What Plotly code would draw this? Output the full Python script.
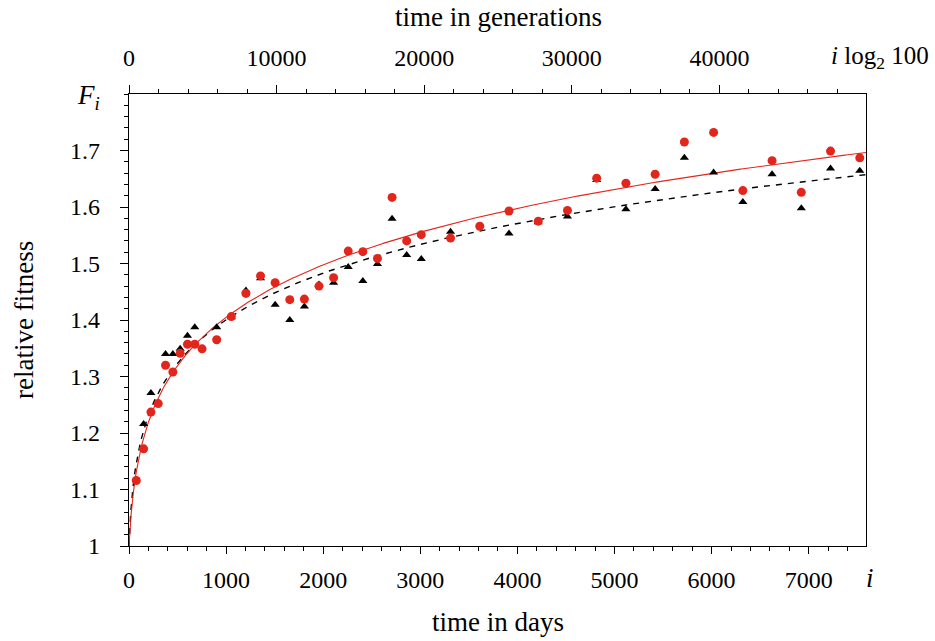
import numpy as np
import plotly.graph_objects as go

# ---- data (time in generations, relative fitness) ----
gen_red = [500, 1000, 1500, 2000, 2500, 3000, 3500, 4000, 4500, 5000,
           6000, 7000, 8000, 9000, 10000, 11000, 12000, 13000, 14000, 15000,
           16000, 17000, 18000, 19000, 20000, 22000, 24000, 26000, 28000, 30000,
           32000, 34000, 36000, 38000, 40000, 42000, 44000, 46000, 48000, 50000]
fit_red = [1.116, 1.172, 1.237, 1.252, 1.320, 1.308, 1.341, 1.357, 1.357, 1.349,
           1.365, 1.406, 1.447, 1.478, 1.466, 1.436, 1.437, 1.460, 1.475, 1.522,
           1.521, 1.509, 1.617, 1.540, 1.551, 1.545, 1.566, 1.593, 1.575, 1.594,
           1.651, 1.642, 1.658, 1.715, 1.732, 1.629, 1.682, 1.626, 1.699, 1.687]

gen_black = [1000, 1500, 2500, 3000, 3500, 4000, 4500,
             6000, 7000, 8000, 9000, 10000, 11000, 12000, 13000, 14000, 15000,
             16000, 17000, 18000, 19000, 20000, 22000, 26000, 28000, 30000,
             32000, 34000, 36000, 38000, 40000, 42000, 44000, 46000, 48000, 50000]
fit_black = [1.216, 1.271, 1.340, 1.340, 1.349, 1.372, 1.387,
             1.387, 1.405, 1.452, 1.474, 1.427, 1.400, 1.424, 1.463, 1.466, 1.494,
             1.469, 1.499, 1.579, 1.515, 1.508, 1.556, 1.553, 1.573, 1.583,
             1.648, 1.596, 1.632, 1.687, 1.661, 1.609, 1.658, 1.598, 1.668, 1.664]

# power-law fit parameters F(i) = (1 + a i)^b, i in days
fit_params_red = (0.036, 0.09415)
fit_params_black = (0.055, 0.08368)

x_ticks_days = [0, 1000, 2000, 3000, 4000, 5000, 6000, 7000]
x_ticks_gen = [0, 10000, 20000, 30000, 40000]
x_ticktext_gen = ["0", "10000", "20000", "30000", "40000"]
y_ticks = [1, 1.1, 1.2, 1.3, 1.4, 1.5, 1.6, 1.7]
y_ticktext = ["1", "1.1", "1.2", "1.3", "1.4", "1.5", "1.6", "1.7"]

L2 = np.log2(100)
days_red = np.array(gen_red) / L2
days_black = np.array(gen_black) / L2

X_MAX = 7590
G_MAX = 49930

t = np.concatenate([np.linspace(0, 50, 200), np.linspace(50, X_MAX, 800)])
def powerlaw(p):
    a, b = p
    return (1 + a * t) ** b

RED = "#e3261c"
FONT = "Liberation Serif"
TICK_SIZE = 24
TITLE_SIZE = 27

fig = go.Figure()
fig.add_trace(go.Scatter(x=t, y=powerlaw(fit_params_black), mode="lines",
                         line=dict(color="black", width=1.4, dash="6px,6px"),
                         showlegend=False, hoverinfo="skip"))
fig.add_trace(go.Scatter(x=t, y=powerlaw(fit_params_red), mode="lines",
                         line=dict(color=RED, width=1.1),
                         showlegend=False, hoverinfo="skip"))
fig.add_trace(go.Scatter(x=days_black, y=fit_black, mode="markers",
                         marker=dict(symbol="triangle-up", size=8, color="black"),
                         showlegend=False))
fig.add_trace(go.Scatter(x=days_red, y=fit_red, mode="markers",
                         marker=dict(symbol="circle", size=9, color=RED),
                         showlegend=False))
# invisible trace to activate top axis
fig.add_trace(go.Scatter(x=[0, G_MAX], y=[1, 1], xaxis="x2", mode="markers",
                         marker=dict(opacity=0), showlegend=False, hoverinfo="skip"))

tickfont = dict(family=FONT, size=TICK_SIZE, color="black")
fig.update_layout(
    width=935, height=641,
    margin=dict(l=129, r=69, t=94, b=95, pad=0),
    paper_bgcolor="white", plot_bgcolor="white",
    font=dict(family=FONT, size=TICK_SIZE, color="black"),
    xaxis=dict(range=[0, X_MAX], tickvals=x_ticks_days, ticks="outside", ticklen=7,
               tickwidth=1, tickcolor="black", showgrid=False, zeroline=False,
               showline=True, linecolor="black", linewidth=1.3, mirror=False,
               tickfont=tickfont, ticklabelstandoff=5,
               minor=dict(dtick=200, tick0=0, ticks="outside", ticklen=4,
                          tickcolor="black", tickwidth=1, showgrid=False)),
    xaxis2=dict(range=[0, G_MAX], overlaying="x", side="top", anchor="y",
                tickvals=x_ticks_gen, ticktext=x_ticktext_gen, ticks="outside",
                ticklen=8, tickwidth=1,
                tickcolor="black", showgrid=False, zeroline=False,
                showline=True, linecolor="black", linewidth=1.3,
                tickfont=tickfont, ticklabelstandoff=9,
                minor=dict(dtick=2000, tick0=0, ticks="outside", ticklen=4,
                           tickcolor="black", tickwidth=1, showgrid=False)),
    yaxis=dict(range=[1, 1.8], tickvals=y_ticks, ticktext=y_ticktext,
               ticks="outside", ticklen=8,
               tickwidth=1, tickcolor="black", showgrid=False, zeroline=False,
               showline=True, linecolor="black", linewidth=1.3, mirror=True,
               tickfont=tickfont, ticklabelstandoff=15,
               minor=dict(dtick=0.02, tick0=1, ticks="outside", ticklen=4,
                          tickcolor="black", tickwidth=1, showgrid=False)),
    annotations=[
        dict(text="time in days", xref="paper", yref="paper",
             showarrow=False, font=dict(family=FONT, size=TITLE_SIZE)),
        dict(text="time in generations", xref="paper", yref="paper", showarrow=False,
             font=dict(family=FONT, size=TITLE_SIZE)),
        dict(text="relative fitness", xref="paper", yref="paper", showarrow=False,
             textangle=-90, font=dict(family=FONT, size=TITLE_SIZE)),
        dict(text="<i>F</i><sub><i>i</i></sub>", xref="paper", yref="paper",
             showarrow=False, font=dict(family=FONT, size=TITLE_SIZE)),
        dict(text="<i>i</i>", xref="paper", yref="paper", showarrow=False,
             font=dict(family=FONT, size=TITLE_SIZE)),
        dict(text="<i>i</i> log<sub>2</sub> 100", xref="paper", yref="paper",
             showarrow=False, font=dict(family=FONT, size=TITLE_SIZE - 2)),
    ],
)

# place annotations by pixel position
PW, PH = 935 - 129 - 69, 641 - 94 - 95
def px(x, y):
    return (x - 129) / PW, (641 - 95 - y) / PH

pos = [(498, 622), (498, 17), (24, 320), (88, 97), (870, 578), (880, 57)]
anns = list(fig.layout.annotations)
for ann, (xp, yp) in zip(anns, pos):
    ann.x, ann.y = px(xp, yp)
    ann.xanchor = "center"
    ann.yanchor = "middle"
fig.layout.annotations = anns

fig.write_html("out.html")
